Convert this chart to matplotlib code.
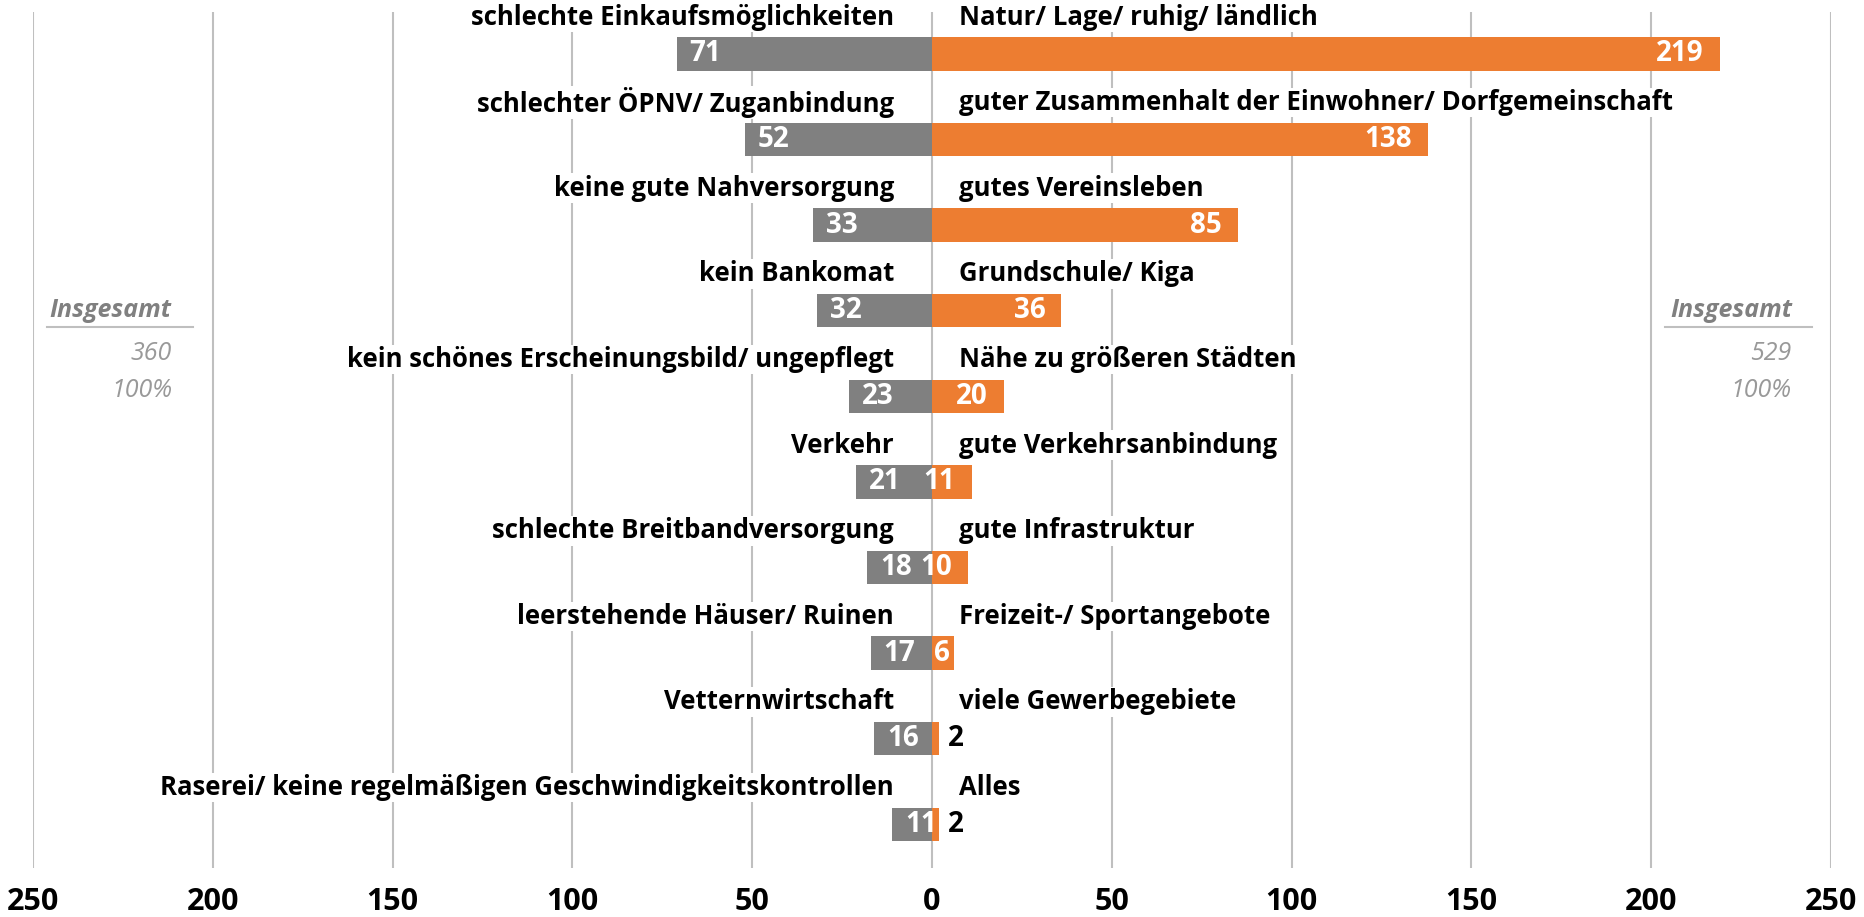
import matplotlib.pyplot as plt
import numpy as np

plt.rcParams['font.family'] = ['Open Sans', 'DejaVu Sans']

neg_labels = ["schlechte Einkaufsmöglichkeiten", "schlechter ÖPNV/ Zuganbindung",
              "keine gute Nahversorgung", "kein Bankomat",
              "kein schönes Erscheinungsbild/ ungepflegt", "Verkehr",
              "schlechte Breitbandversorgung", "leerstehende Häuser/ Ruinen",
              "Vetternwirtschaft", "Raserei/ keine regelmäßigen Geschwindigkeitskontrollen"]
neg_vals = [71, 52, 33, 32, 23, 21, 18, 17, 16, 11]
pos_labels = ["Natur/ Lage/ ruhig/ ländlich", "guter Zusammenhalt der Einwohner/ Dorfgemeinschaft",
              "gutes Vereinsleben", "Grundschule/ Kiga", "Nähe zu größeren Städten",
              "gute Verkehrsanbindung", "gute Infrastruktur", "Freizeit-/ Sportangebote",
              "viele Gewerbegebiete", "Alles"]
pos_vals = [219, 138, 85, 36, 20, 11, 10, 6, 2, 2]
neg_total = 360
pos_total = 529
ticks = [-250, -200, -150, -100, -50, 0, 50, 100, 150, 200, 250]

grey = '#808080'
orange = '#ED7D31'

fig = plt.figure(figsize=(18.64, 9.17), dpi=100)
ax = fig.add_axes([0.0177, 0.0534, 0.9646, 0.9336])

y = np.arange(len(neg_vals))
for t in ticks:
    ax.axvline(t, color='#BFBFBF', lw=1.5, zorder=0)

ax.barh(y, -np.array(neg_vals), height=0.39, color=grey, zorder=3)
ax.barh(y, pos_vals, height=0.39, color=orange, zorder=3)

box = dict(facecolor='white', edgecolor='none', pad=1)
for i in range(len(y)):
    ax.text(-10.6, i - 0.43, neg_labels[i], ha='right', va='center', fontsize=18.5,
            fontweight='bold', color='black', bbox=box, zorder=2, clip_on=False)
    ax.text(7.5, i - 0.43, pos_labels[i], ha='left', va='center', fontsize=18.5,
            fontweight='bold', color='black', bbox=box, zorder=2, clip_on=False)
    ax.text(-neg_vals[i] + 3.5, i, str(neg_vals[i]), ha='left', va='center',
            fontsize=20, fontweight='bold', color='white', zorder=4)
    if pos_vals[i] > 4:
        ax.text(max(pos_vals[i] - 4.5, 5), i, str(pos_vals[i]), ha='right', va='center',
                fontsize=20, fontweight='bold', color='white', zorder=4)
    else:
        ax.text(pos_vals[i] + 2.3, i, str(pos_vals[i]), ha='left', va='center',
                fontsize=20, fontweight='bold', color='black', zorder=4)

# Insgesamt boxes
ax.text(-245.4, 3.0, 'Insgesamt', ha='left', va='center', fontsize=18,
        fontweight='bold', style='italic', color=grey)
ax.plot([-246, -205.4], [3.19, 3.19], color='#BFBFBF', lw=1.5)
ax.text(-211.3, 3.5, str(neg_total), ha='right', va='center', fontsize=18,
        style='italic', color='#999999')
ax.text(-211.3, 3.93, '100%', ha='right', va='center', fontsize=18,
        style='italic', color='#999999')
ax.text(205.4, 3.0, 'Insgesamt', ha='left', va='center', fontsize=18,
        fontweight='bold', style='italic', color=grey)
ax.plot([203.7, 244.7], [3.19, 3.19], color='#BFBFBF', lw=1.5)
ax.text(239, 3.5, str(pos_total), ha='right', va='center', fontsize=18,
        style='italic', color='#999999')
ax.text(239, 3.93, '100%', ha='right', va='center', fontsize=18,
        style='italic', color='#999999')

ax.set_xlim(-250, 250)
ax.set_ylim(9.51, -0.49)
ax.set_xticks(ticks)
ax.set_xticklabels([str(abs(t)) for t in ticks], fontsize=22, fontweight='bold')
ax.set_yticks([])
ax.tick_params(axis='x', length=0, pad=14)
for s in ax.spines.values():
    s.set_visible(False)

fig.savefig('out.png', dpi=100)
